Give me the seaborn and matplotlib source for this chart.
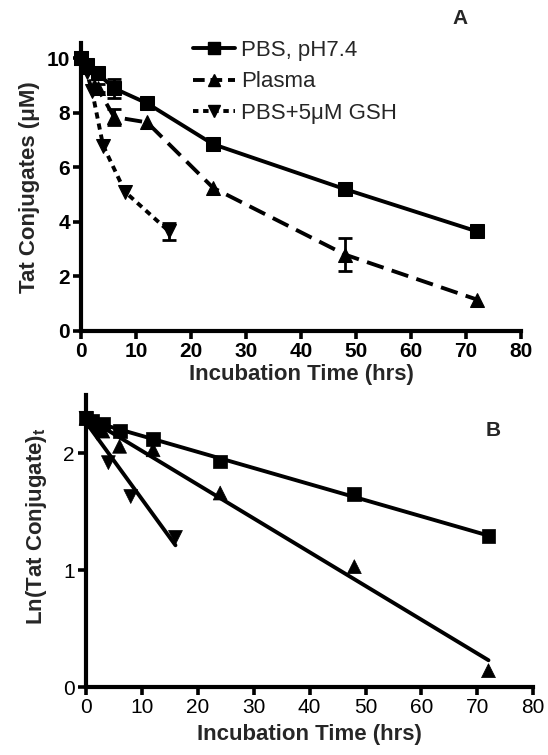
import numpy as np
import pandas as pd
import matplotlib
matplotlib.use("Agg")
import matplotlib.pyplot as plt
from matplotlib.lines import Line2D
import seaborn as sns

# ==================== DATA ====================
series_names = ["PBS, pH7.4", "Plasma", "PBS+5\u03bcM GSH"]

# panel A: concentration (uM) vs time (hrs)
time_pbs = [0, 1, 3, 6, 12, 24, 48, 72]
conc_pbs = [10.0, 9.75, 9.45, 8.9, 8.35, 6.85, 5.2, 3.65]
err_pbs = [0, 0, 0, 0.35, 0.1, 0, 0.08, 0.05]

time_plasma = [0, 1, 3, 6, 12, 24, 48, 72]
conc_plasma = [10.0, 9.7, 8.9, 7.85, 7.65, 5.25, 2.8, 1.15]
err_plasma = [0, 0, 0.15, 0.3, 0, 0, 0.6, 0]

time_gsh = [0, 1, 2, 4, 8, 16]
conc_gsh = [10.0, 9.5, 8.8, 6.8, 5.1, 3.65]
err_gsh = [0, 0, 0, 0, 0, 0.3]

# panel B: ln(concentration)
ln_pbs = [2.30, 2.28, 2.25, 2.19, 2.12, 1.93, 1.65, 1.29]
ln_plasma = [2.30, 2.27, 2.19, 2.06, 2.03, 1.66, 1.03, 0.14]
ln_gsh = [2.30, 2.25, 2.17, 1.92, 1.63, 1.28]

x_ticks = [0, 10, 20, 30, 40, 50, 60, 70, 80]
yticks_a = [0, 2, 4, 6, 8, 10]
yticks_b = [0, 1, 2]

# ==================== STYLE ====================
sns.set_style("ticks")
plt.rcParams["font.family"] = ["Liberation Sans", "DejaVu Sans"]

LW = 2.8
markers = {series_names[0]: "s", series_names[1]: "^", series_names[2]: "v"}
dashes = {series_names[0]: "", series_names[1]: (4.5, 2.2), series_names[2]: (1.6, 1.3)}
palette = {n: "black" for n in series_names}

df_a = pd.concat([
    pd.DataFrame({"time": time_pbs, "conc": conc_pbs, "err": err_pbs, "cond": series_names[0]}),
    pd.DataFrame({"time": time_plasma, "conc": conc_plasma, "err": err_plasma, "cond": series_names[1]}),
    pd.DataFrame({"time": time_gsh, "conc": conc_gsh, "err": err_gsh, "cond": series_names[2]}),
], ignore_index=True)

df_b = pd.concat([
    pd.DataFrame({"time": time_pbs, "ln": ln_pbs, "cond": series_names[0]}),
    pd.DataFrame({"time": time_plasma, "ln": ln_plasma, "cond": series_names[1]}),
    pd.DataFrame({"time": time_gsh, "ln": ln_gsh, "cond": series_names[2]}),
], ignore_index=True)

fig = plt.figure(figsize=(5.48, 7.55), dpi=100)
ax1 = fig.add_axes([0.148, 0.5616, 0.803, 0.381])
ax2 = fig.add_axes([0.157, 0.090, 0.816, 0.387])


def style_axis(ax, yticks, ylim, bold_ticks):
    ax.set_xlim(0, 80)
    ax.set_ylim(*ylim)
    ax.set_xticks(x_ticks)
    ax.set_yticks(yticks)
    for s in ["top", "right"]:
        ax.spines[s].set_visible(False)
    for s in ["left", "bottom"]:
        ax.spines[s].set_linewidth(3.0)
        ax.spines[s].set_color("black")
    ax.tick_params(axis="both", direction="out", length=6, width=2.6,
                   labelsize=15, colors="black", pad=2)
    for lab in ax.get_xticklabels() + ax.get_yticklabels():
        lab.set_fontweight("bold" if bold_ticks else "normal")
    ax.set_xlabel("Incubation Time (hrs)", fontsize=16, fontweight="bold", labelpad=2)


# ==================== PANEL A ====================
sns.lineplot(data=df_a, x="time", y="conc", hue="cond", style="cond",
             hue_order=series_names, style_order=series_names,
             palette=palette, markers=markers, dashes=dashes,
             markersize=9.5, markeredgecolor="black", linewidth=LW,
             legend=False, ax=ax1, clip_on=False)
for name in series_names:
    sub = df_a[(df_a["cond"] == name) & (df_a["err"] > 0)]
    ax1.errorbar(sub["time"], sub["conc"], yerr=sub["err"], fmt="none",
                 ecolor="black", elinewidth=2, capsize=5, capthick=2, clip_on=False)

style_axis(ax1, yticks_a, (0, 10.55), True)
ax1.set_ylabel("Tat Conjugates (\u03bcM)", fontsize=16, fontweight="bold", labelpad=5)

handles = [
    Line2D([], [], color="black", lw=LW, marker="s", markersize=8),
    Line2D([], [], color="black", lw=LW, marker="^", markersize=8, dashes=(3.0, 1.5)),
    Line2D([], [], color="black", lw=LW, marker="v", markersize=8, dashes=(1.4, 1.2)),
]
ax1.legend(handles, series_names, frameon=False, loc="upper left",
           bbox_to_anchor=(0.352, 0.947), bbox_transform=fig.transFigure,
           fontsize=16, handlelength=1.9, handletextpad=0.25, labelspacing=0.47,
           borderpad=0, borderaxespad=0)
fig.text(0.84, 0.975, "A", fontsize=15, fontweight="bold", ha="center", va="center")

# ==================== PANEL B ====================
sns.scatterplot(data=df_b, x="time", y="ln", hue="cond", style="cond",
                hue_order=series_names, style_order=series_names,
                palette=palette, markers=markers, s=100, edgecolor="black",
                linewidth=0.5, legend=False, ax=ax2, clip_on=False, zorder=3)
for name in series_names:
    sub = df_b[df_b["cond"] == name]
    sns.regplot(data=sub, x="time", y="ln", scatter=False, ci=None, truncate=True,
                color="black", line_kws={"linewidth": LW}, ax=ax2)

style_axis(ax2, yticks_b, (0, 2.5), False)
ax2.set_xlabel("Incubation Time (hrs)", fontsize=16, fontweight="bold", labelpad=5)
ax2.set_ylabel("Ln(Tat Conjugate)$_\\mathregular{t}$", fontsize=16, fontweight="bold")
ax2.yaxis.set_label_coords(-0.083, 0.55)
fig.text(0.90, 0.43, "B", fontsize=15, fontweight="bold", ha="center", va="center")

plt.savefig("out.png", dpi=100)
